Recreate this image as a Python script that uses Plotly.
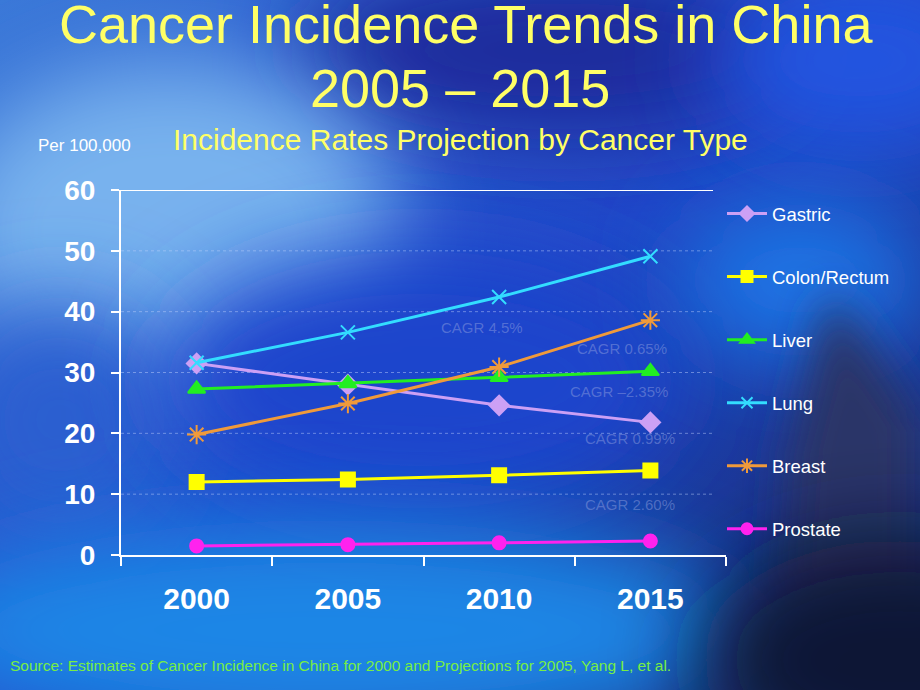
import base64
import plotly.graph_objects as go

years = ["2000", "2005", "2010", "2015"]
gastric = [31.5, 28.0, 24.6, 21.8]
colon = [12.0, 12.4, 13.1, 13.9]
liver = [27.3, 28.2, 29.2, 30.2]
lung = [31.6, 36.6, 42.4, 49.1]
breast = [19.8, 24.9, 30.9, 38.6]
prostate = [1.5, 1.7, 2.0, 2.3]

series_names = ["Gastric", "Colon/Rectum", "Liver", "Lung", "Breast", "Prostate"]
series_values = [gastric, colon, liver, lung, breast, prostate]
series_colors = ["#CCA0F5", "#FFFF00", "#22EE22", "#33DDFF", "#F09A3A", "#FF22EE"]
series_symbols = ["diamond", "square", "triangle-up", "x-thin", "asterisk", "circle"]
series_sizes = [15, 14, 15, 14, 16, 13]
legend_sizes = [11, 11, 12, 11, 12, 11]

cagr_labels = ["CAGR 4.5%", "CAGR 0.65%", "CAGR \u20132.35%", "CAGR 0.99%", "CAGR 2.60%"]
grid_values = [10, 20, 30, 40, 50]

W, H = 920, 690
L, R, T, B = 121, 726, 190, 555


def px(xp):
    return (xp - L) / (R - L)


def py(yp):
    return (B - yp) / (B - T)


svg = f"""<svg xmlns='http://www.w3.org/2000/svg' width='{W}' height='{H}' viewBox='0 0 {W} {H}'>
<defs>
<filter id='b1' x='-50%' y='-50%' width='200%' height='200%'><feGaussianBlur stdDeviation='45'/></filter>
<filter id='b2' x='-50%' y='-50%' width='200%' height='200%'><feGaussianBlur stdDeviation='22'/></filter>
<linearGradient id='g0' x1='0' y1='0' x2='1' y2='1'>
<stop offset='0' stop-color='#3a78d8'/>
<stop offset='0.5' stop-color='#2148c8'/>
<stop offset='1' stop-color='#15286a'/>
</linearGradient>
</defs>
<rect width='{W}' height='{H}' fill='url(#g0)'/>
<ellipse cx='560' cy='50' rx='260' ry='90' fill='#1f2c9c' filter='url(#b1)'/>
<ellipse cx='860' cy='60' rx='150' ry='90' fill='#2255e0' filter='url(#b1)'/>
<ellipse cx='170' cy='230' rx='230' ry='170' fill='#78b2ee' filter='url(#b1)'/>
<ellipse cx='60' cy='420' rx='120' ry='120' fill='#2a5ed0' filter='url(#b1)'/>
<ellipse cx='420' cy='380' rx='260' ry='130' fill='#1f45cc' filter='url(#b1)'/>
<ellipse cx='330' cy='630' rx='420' ry='110' fill='#1a86e6' filter='url(#b1)'/>
<ellipse cx='800' cy='280' rx='120' ry='80' fill='#1c74e6' filter='url(#b1)'/>
<polygon points='830,290 880,360 920,420 920,600 780,600 790,450' fill='#2a3568' filter='url(#b2)'/>
<ellipse cx='900' cy='660' rx='200' ry='120' fill='#0d1535' filter='url(#b1)'/>
</svg>"""
bg_uri = "data:image/svg+xml;base64," + base64.b64encode(svg.encode()).decode()

fig = go.Figure()
for name, vals, col, sym, sz in zip(series_names, series_values, series_colors,
                                     series_symbols, series_sizes):
    mk = dict(symbol=sym, size=sz, color=col, line=dict(color=col, width=2))
    fig.add_trace(go.Scatter(
        x=years, y=vals, name=name, mode="lines+markers", showlegend=False,
        line=dict(color=col, width=3), marker=mk, legendgroup=name,
    ))
# legend entries with smaller symbols (as in the reference legend)
for name, col, sym, sz in zip(series_names, series_colors, series_symbols, legend_sizes):
    fig.add_trace(go.Scatter(
        x=[None], y=[None], name=name, mode="lines+markers", showlegend=True,
        line=dict(color=col, width=3),
        marker=dict(symbol=sym, size=sz, color=col, line=dict(color=col, width=2)),
        legendgroup=name,
    ))

fig.add_shape(type="line", xref="paper", yref="y", x0=px(113), x1=px(713), y0=60, y1=60,
              line=dict(color="white", width=2))
for gv in grid_values:
    fig.add_shape(type="line", xref="paper", yref="y", x0=0, x1=px(713), y0=gv, y1=gv,
                  line=dict(color="rgba(200,215,255,0.45)", width=1, dash="dot"), layer="below")

anns = []
fontA = "Arial, Liberation Sans, sans-serif"
anns.append(dict(text="Cancer Incidence Trends in China", x=px(466), y=py(24),
                 font=dict(size=54, color="#FFFF66", family=fontA)))
anns.append(dict(text="2005 \u2013 2015", x=px(460), y=py(88),
                 font=dict(size=54, color="#FFFF66", family=fontA)))
anns.append(dict(text="Incidence Rates Projection by Cancer Type", x=px(460), y=py(140),
                 font=dict(size=30, color="#FFFF66", family=fontA)))
anns.append(dict(text="Per 100,000", x=px(84), y=py(145),
                 font=dict(size=17, color="white", family=fontA)))
anns.append(dict(text="Source: Estimates of Cancer Incidence in China for 2000 and Projections for 2005, Yang L, et al.",
                 x=px(8), y=py(665), xanchor="left",
                 font=dict(size=15.5, color="#77EE44", family=fontA)))
cagr_px = [(482, 327), (622, 348), (619, 391), (630, 438), (630, 504)]
for lab, (cx, cy) in zip(cagr_labels, cagr_px):
    anns.append(dict(text=lab, x=px(cx), y=py(cy),
                     font=dict(size=15, color="rgba(150,165,225,0.45)", family=fontA)))
for a in anns:
    a.update(xref="paper", yref="paper", showarrow=False)
    a.setdefault("xanchor", "center")
    a["yanchor"] = "middle"

fig.update_layout(
    width=W, height=H,
    margin=dict(l=L, r=W - R, t=T, b=H - B, pad=0),
    paper_bgcolor="#2148c8",
    plot_bgcolor="rgba(0,0,0,0)",
    font=dict(family=fontA, color="white"),
    annotations=anns,
    images=[dict(source=bg_uri, xref="paper", yref="paper",
                 x=px(0), y=py(0), sizex=W / (R - L), sizey=H / (B - T),
                 xanchor="left", yanchor="top", sizing="stretch", layer="below")],
    legend=dict(x=px(722), y=py(195), xanchor="left", yanchor="top",
                bgcolor="rgba(0,0,0,0)", font=dict(size=18.5, color="white", family=fontA),
                tracegroupgap=36, traceorder="grouped", itemwidth=40),
    showlegend=True,
)
fig.update_xaxes(
    type="category", range=[-0.5, 3.5], showgrid=False,
    showline=True, linecolor="white", linewidth=2,
    ticks="outside", tickson="boundaries", ticklen=9, tickcolor="white", tickwidth=2,
    tickfont=dict(size=30, color="white", family=fontA, weight="bold"),
    ticklabelstandoff=16, zeroline=False,
)
fig.update_yaxes(
    range=[0, 60], dtick=10, showgrid=False,
    showline=True, linecolor="white", linewidth=2,
    ticks="outside", ticklen=8, tickcolor="white", tickwidth=2,
    tickfont=dict(size=28, color="white", family=fontA, weight="bold"),
    ticklabelstandoff=10, zeroline=False,
)

fig.write_html("out.html", config={"displayModeBar": False},
               post_script="document.body.style.margin='0';document.body.style.overflow='hidden';")
